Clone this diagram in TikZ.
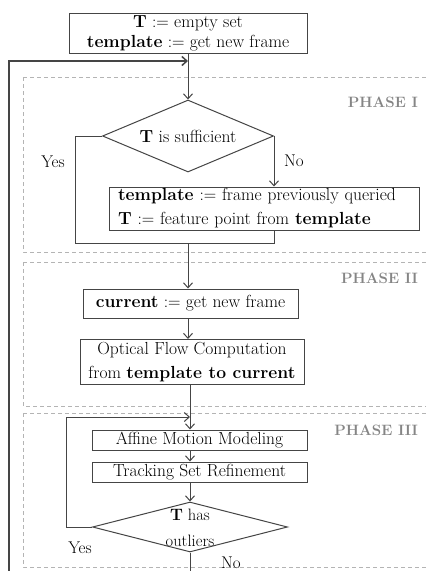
\documentclass[tikz,border=0pt]{standalone}
\usetikzlibrary{shapes.geometric,arrows.meta}
\definecolor{ln}{HTML}{454545}
\definecolor{dsh}{HTML}{B4B4B4}
\definecolor{ph}{HTML}{858585}
\begin{document}
\begin{tikzpicture}[x=1pt,y=-1pt,
  every node/.style={font=\fontsize{17.5}{20}\selectfont, inner sep=0pt},
  box/.style={draw=ln, line width=1pt, align=center},
  dia/.style={draw=ln, line width=1pt, diamond, inner sep=0pt},
  conn/.style={draw=ln, line width=1pt},
  arr/.style={conn, -{Straight Barb[length=5pt,width=9pt]}},
  phase/.style={draw=dsh, line width=0.7pt, dash pattern=on 4pt off 3pt},
  phlab/.style={text=ph, font=\fontsize{15}{18}\selectfont\bfseries, anchor=east},
  lab/.style={font=\fontsize{17}{18}\selectfont}
]
\useasboundingbox (0,0) rectangle (426,571);
\fill[white] (0,0) rectangle (426,571);

% phase frames
\draw[phase] (23,77) -- (430,77);
\draw[phase] (23,77) -- (23,252) -- (430,252);
\draw[phase] (23,262) -- (430,262);
\draw[phase] (23,262) -- (23,406) -- (430,406);
\draw[phase] (23,413) -- (430,413);
\draw[phase] (23,413) -- (23,567) -- (430,567);
\node[phlab] (p1) at (418,102) {PHASE I};
\node[phlab] (p2) at (418,278) {PHASE II};
\node[phlab] (p3) at (418,430) {PHASE III};

% nodes
\node[box, minimum width=238pt, minimum height=40pt] (init) at (188,33)
  {\textbf{T} $:=$ empty set\\ \textbf{template} $:=$ get new frame};
\node[dia, minimum width=171pt, minimum height=72pt] (d1) at (188,136) {};
\node (d1t) at (d1.center) {\textbf{T} is sufficient};
\node[box, minimum height=43pt, text width=292pt, inner xsep=9pt, align=left,
  font=\fontsize{17.5}{24}\selectfont] (tmpl) at (264,208.5)
  {\textbf{template} $:=$ frame previously queried\\ \textbf{T} $:=$ feature point from \textbf{template}};
\node[box, minimum width=215pt, minimum height=29pt] (cur) at (190.5,303.5)
  {\textbf{current} $:=$ get new frame};
\node[box, minimum width=224pt, minimum height=45pt, font=\fontsize{17.5}{24}\selectfont] (opt) at (192,362)
  {Optical Flow Computation\\ from \textbf{template to current}};
\node[box, minimum width=215pt, minimum height=20pt] (aff) at (199.5,440)
  {Affine Motion Modeling};
\node[box, minimum width=215pt, minimum height=20pt] (trk) at (199.5,472)
  {Tracking Set Refinement};
\node[dia, minimum width=195pt, minimum height=50pt] (d2) at (190,527) {};
\node[font=\fontsize{16.5}{26}\selectfont, align=center] (d2t) at (190,528)
  {\textbf{T} has\\ outliers};

% coordinates
\coordinate (lb) at (9,571);
\coordinate (m1) at (188,61);
\coordinate (y1) at (75,243);
\coordinate (j1) at (188,243);
\coordinate (y2) at (66,417);
\coordinate (m2) at (190,417);
\coordinate (eb) at (190,571);

% connectors
\draw[arr, line width=1.5pt] (lb) |- (m1);
\draw[arr] (init.south -| m1) -- (d1.north);
\draw[arr] (d1.east) -- (d1.east |- tmpl.north);
\draw[conn] (d1.west) -| (y1) -- (y1 -| d1.east) -- (tmpl.south -| d1.east);
\draw[arr] (j1) -- (j1 |- cur.north);
\draw[arr] (cur.south -| j1) -- (opt.north -| j1);
\draw[arr] (opt.south -| m2) -- (aff.north -| m2);
\draw[arr] (aff.south -| m2) -- (trk.north -| m2);
\draw[arr] (trk.south -| m2) -- (d2.north);
\draw[arr] (d2.west) -| (y2) -- (m2);
\draw[conn] (d2.south) -- (eb);

% branch labels
\node[lab] (yes1) at (53,162) {Yes};
\node[lab] (no1) at (294,161) {No};
\node[lab] (yes2) at (80,548) {Yes};
\node[lab] (no2) at (231,563) {No};
\end{tikzpicture}
\end{document}
